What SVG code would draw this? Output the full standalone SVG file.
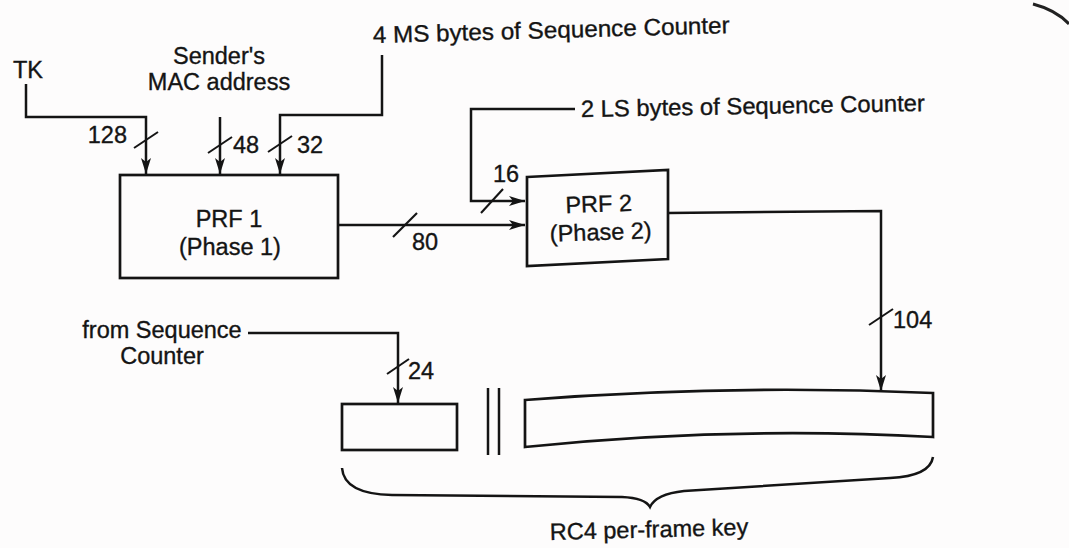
<svg xmlns="http://www.w3.org/2000/svg" width="1069" height="548" viewBox="0 0 1069 548">
<style>
text{font-family:"Liberation Sans",Arial,Helvetica,sans-serif;font-size:23.5px;fill:#141414;stroke:#141414;stroke-width:0.35}
.ln{fill:none;stroke:#141414;stroke-width:2.5}
.bx{fill:none;stroke:#141414;stroke-width:2.7}
.sl{stroke:#141414;stroke-width:2.1}
.mid{text-anchor:middle}
.end{text-anchor:end}
</style>
<defs>
<marker id="ah" markerUnits="userSpaceOnUse" markerWidth="17" markerHeight="12" refX="16" refY="5" orient="auto">
<path d="M0,0 L16,5 L0,10 L4,5 Z" fill="#141414"/>
</marker>
</defs>
<rect width="1069" height="548" fill="#fdfcfc"/>
<path d="M1033,4 Q1056,10 1069,24" fill="none" stroke="#222" stroke-width="3"/>

<g id="connectors">
<path class="ln" d="M26,84 V117 H146 V174" marker-end="url(#ah)"/>
<path class="ln" d="M220,117 V174" marker-end="url(#ah)"/>
<path class="ln" d="M382,55 V115 H280 V174" marker-end="url(#ah)"/>
<path class="ln" d="M575,109 H471 V201 H525" marker-end="url(#ah)"/>
<path class="ln" d="M338,225 H525" marker-end="url(#ah)"/>
<path class="ln" d="M668,213 L881,211 V391" marker-end="url(#ah)"/>
<path class="ln" d="M248,333 H398 V403" marker-end="url(#ah)"/>
<line class="sl" x1="134" y1="148" x2="158" y2="132"/>
<line class="sl" x1="208" y1="153" x2="232" y2="137"/>
<line class="sl" x1="268" y1="152" x2="292" y2="136"/>
<line class="sl" x1="393" y1="237" x2="417" y2="213"/>
<line class="sl" x1="481" y1="213" x2="503" y2="189"/>
<line class="sl" x1="869" y1="325" x2="893" y2="309"/>
<line class="sl" x1="387" y1="374" x2="409" y2="359"/>
<text class="end" x="127" y="143">128</text>
<text x="233" y="153">48</text>
<text x="297" y="153">32</text>
<text x="412" y="250">80</text>
<text x="493" y="182">16</text>
<text x="893" y="328">104</text>
<text x="408" y="379">24</text>
</g>

<g id="tk"><text x="13" y="78">TK</text></g>
<g id="mac"><text class="mid" x="219" y="64">Sender's</text><text class="mid" x="219" y="90">MAC address</text></g>
<g id="ms"><text x="373" y="43" transform="rotate(-1.6 373 43)" textLength="357" lengthAdjust="spacingAndGlyphs">4 MS bytes of Sequence Counter</text></g>
<g id="ls"><text x="581" y="117" transform="rotate(-1 581 117)" textLength="344" lengthAdjust="spacingAndGlyphs">2 LS bytes of Sequence Counter</text></g>
<g id="from"><text class="mid" x="162" y="338">from Sequence</text><text class="mid" x="162" y="364">Counter</text></g>

<g id="prf1">
<rect class="bx" x="120" y="175" width="218" height="103"/>
<text class="mid" x="229" y="227">PRF 1</text>
<text class="mid" x="230" y="255">(Phase 1)</text>
</g>
<g id="prf2">
<path class="bx" d="M527,177 L668,170 L668,259 L527,266 Z"/>
<text class="mid" x="599" y="212" transform="rotate(-2 599 212)">PRF 2</text>
<text class="mid" x="601" y="240" transform="rotate(-2 601 240)">(Phase 2)</text>
</g>
<g id="short-key"><rect class="bx" x="342" y="404" width="115" height="46"/></g>
<g id="concat"><line class="ln" x1="488" y1="388" x2="488" y2="455"/><line class="ln" x1="499" y1="388" x2="499" y2="455"/></g>
<g id="long-key"><path class="bx" d="M525,400 Q729,384 933,393 L933,437 Q729,426 525,447 Z"/></g>
<g id="brace"><path class="ln" d="M342,468 Q344,494 392,495 L622,497 Q645,498 650,507 Q656,494 684,491 L890,478 Q930,476 933,457"/></g>
<g id="rc4"><text x="550" y="540" transform="rotate(-1.5 550 540)">RC4 per-frame key</text></g>
</svg>
